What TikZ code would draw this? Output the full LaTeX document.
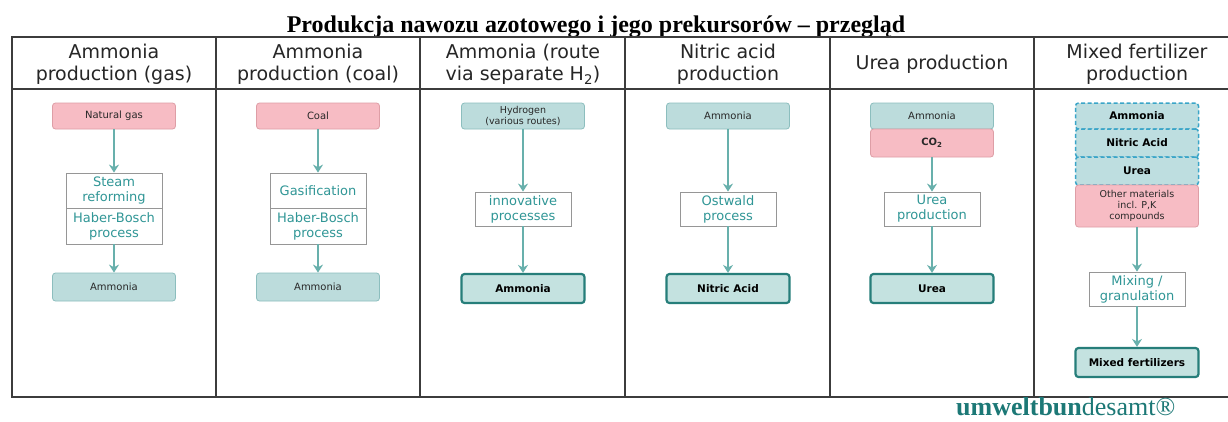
\documentclass[tikz,border=0pt]{standalone}
\usepackage{fontspec}
\setmainfont{Liberation Serif}
\newfontfamily\vf{DejaVu Sans}
\usetikzlibrary{arrows.meta}
\definecolor{pinkF}{RGB}{247,188,196}
\definecolor{pinkL}{RGB}{222,158,166}
\definecolor{tealF}{RGB}{188,220,220}
\definecolor{tealL}{RGB}{140,190,190}
\definecolor{outF}{RGB}{196,226,224}
\definecolor{outL}{RGB}{38,126,122}
\definecolor{dashL}{RGB}{58,165,200}
\definecolor{dashF}{RGB}{190,222,224}
\definecolor{procT}{RGB}{48,150,150}
\definecolor{procL}{RGB}{150,150,150}
\definecolor{arrC}{RGB}{104,176,172}
\definecolor{frameC}{RGB}{60,60,60}
\definecolor{footC}{RGB}{28,120,118}
\definecolor{txtC}{RGB}{40,40,40}
\begin{document}
\begin{tikzpicture}[x=1pt,y=-1pt,
  basebox/.style={rounded corners=3pt, minimum width=123pt, minimum height=26pt, inner sep=0pt, align=center, text=txtC, font=\vf\fontsize{10}{11.5}\selectfont},
  pinkbox/.style={basebox, fill=pinkF, draw=pinkL, line width=0.8pt},
  tealbox/.style={basebox, fill=tealF, draw=tealL, line width=0.8pt},
  outbox/.style={basebox, fill=outF, draw=outL, line width=2.2pt, minimum height=29pt, text=black, font=\vf\bfseries\fontsize{10.5}{12}\selectfont},
  dashbox/.style={basebox, fill=dashF, draw=dashL, line width=1.5pt, dash pattern=on 4pt off 2.5pt, text=black, font=\vf\bfseries\fontsize{10.5}{12}\selectfont},
  procbox/.style={minimum width=96pt, minimum height=34pt, inner sep=0pt, align=center, draw=procL, line width=0.8pt, fill=white, text=procT, font=\vf\fontsize{13}{15}\selectfont},
  headtxt/.style={align=center, inner sep=0pt, text=black!85, font=\vf\fontsize{19}{22}\selectfont},
  arr/.style={draw=arrC, line width=2pt, -{Stealth[length=8pt,width=10pt]}},
  frame/.style={draw=frameC, line width=1.3pt}
]
\useasboundingbox (0,0) rectangle (1228,421);
\fill[white] (0,0) rectangle (1228,421);

% title
\node[anchor=base, inner sep=0pt, font=\bfseries\fontsize{24}{27}\selectfont] (title) at (596,32) {Produkcja nawozu azotowego i jego prekursorów – przegląd};

% frame
\draw[frame] (12,37) rectangle (1245,397);
\draw[frame] (12,89) -- (1245,89);
\foreach \xx in {216,420,625,830,1034} \draw[frame] (\xx,37) -- (\xx,397);

% headers
\node[headtxt] (t1) at (114,64) {Ammonia\\production (gas)};
\node[headtxt] (t2) at (318,64) {Ammonia\\production (coal)};
\node[headtxt] (t3) at (523,64) {Ammonia (route\\via separate H\textsubscript{2})};
\node[headtxt] (t4) at (728,64) {Nitric acid\\production};
\node[headtxt] (t5) at (932,64) {Urea production};
\node[headtxt] (t6) at (1137,64) {Mixed fertilizer\\production};

% column 1
\node[pinkbox] (g1) at (114,116) {Natural gas};
\node[procbox, minimum height=35pt] (s1) at (114,190.5) {Steam\\reforming};
\node[procbox, minimum height=36pt] (h1) at (114,226) {Haber-Bosch\\process};
\node[tealbox, minimum height=28pt] (a1) at (114,287) {Ammonia};
\draw[arr] (g1) -- (s1);
\draw[arr] (h1) -- (a1);

% column 2
\node[pinkbox] (g2) at (318,116) {Coal};
\node[procbox, minimum height=35pt] (s2) at (318,190.5) {Gasification};
\node[procbox, minimum height=36pt] (h2) at (318,226) {Haber-Bosch\\process};
\node[tealbox, minimum height=28pt] (a2) at (318,287) {Ammonia};
\draw[arr] (g2) -- (s2);
\draw[arr] (h2) -- (a2);

% column 3
\node[tealbox, font=\vf\fontsize{9.5}{10.5}\selectfont] (g3) at (523,116) {Hydrogen\\(various routes)};
\node[procbox] (p3) at (523,209) {innovative\\processes};
\node[outbox] (a3) at (523,288.5) {Ammonia};
\draw[arr] (g3) -- (p3);
\draw[arr] (p3) -- (a3);

% column 4
\node[tealbox] (g4) at (728,116) {Ammonia};
\node[procbox] (p4) at (728,209) {Ostwald\\process};
\node[outbox] (a4) at (728,288.5) {Nitric Acid};
\draw[arr] (g4) -- (p4);
\draw[arr] (p4) -- (a4);

% column 5
\node[tealbox] (g5) at (932,116) {Ammonia};
\node[pinkbox, minimum height=28pt, font=\vf\bfseries\fontsize{10}{11.5}\selectfont] (c5) at (932,143) {CO\textsubscript{2}};
\node[procbox] (p5) at (932,209) {Urea\\production};
\node[outbox] (a5) at (932,288.5) {Urea};
\draw[arr] (c5) -- (p5);
\draw[arr] (p5) -- (a5);

% column 6
\node[dashbox] (d1) at (1137,116) {Ammonia};
\node[dashbox, minimum height=28pt] (d2) at (1137,143) {Nitric Acid};
\node[dashbox, minimum height=28pt] (d3) at (1137,171) {Urea};
\node[pinkbox, minimum height=42pt, font=\vf\fontsize{9.5}{11}\selectfont] (o6) at (1137,206) {Other materials\\incl. P,K\\compounds};
\node[procbox] (p6) at (1137,289) {Mixing /\\granulation};
\node[outbox] (a6) at (1137,362.5) {Mixed fertilizers};
\draw[arr] (o6) -- (p6);
\draw[arr] (p6) -- (a6);

% footer
\node[anchor=base west, inner sep=0pt, text=footC, font=\fontsize{26}{29}\selectfont] (foot) at (956,415.5) {\textbf{umweltbun}desamt®};
\end{tikzpicture}
\end{document}
